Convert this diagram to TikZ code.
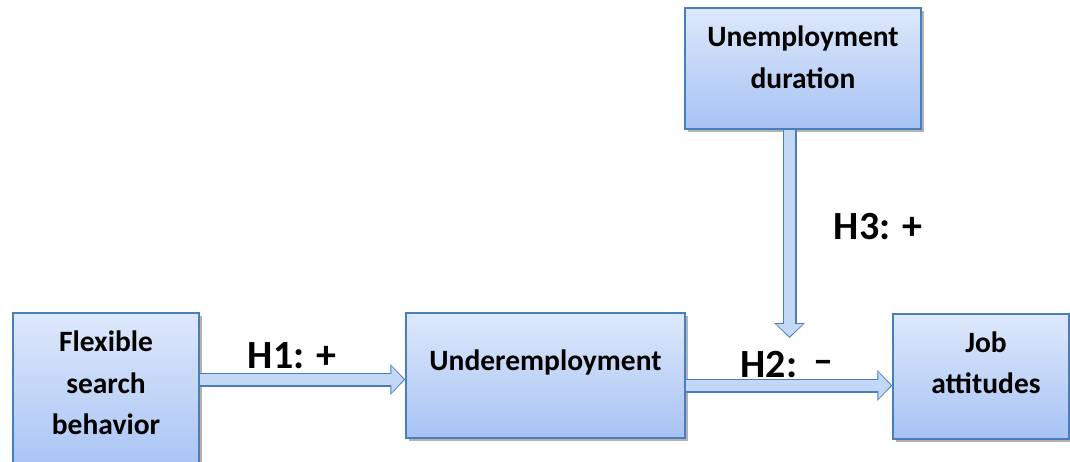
\documentclass[tikz,border=0pt]{standalone}
\usepackage{fontspec}
\setmainfont{Carlito}
\usetikzlibrary{arrows.meta,shadows}
\definecolor{boxline}{HTML}{4A7EBB}
\definecolor{boxtop}{HTML}{DDE8FB}
\definecolor{boxbot}{HTML}{A7C3F4}
\definecolor{arrowfill}{HTML}{C3D7F7}
\tikzset{
  box/.style={draw=boxline, line width=1.5pt, top color=boxtop, bottom color=boxbot,
    drop shadow={shadow xshift=2.5pt, shadow yshift=-2.5pt, fill=black, opacity=0.3}},
  boxtext/.style={font=\fontsize{29.5}{41.5}\selectfont\bfseries, align=center},
  hyp/.style={font=\fontsize{40}{42}\selectfont\bfseries},
  arrowout/.style={draw=boxline, line width=14pt, -{Triangle[width=30pt,length=15pt]}},
  arrowin/.style={draw=arrowfill, line width=11.5pt, shorten >=1.5pt, -{Triangle[width=26pt,length=12.5pt]}},
}
\begin{document}
\begin{tikzpicture}[x=1pt,y=-1pt]
    \useasboundingbox (0,0) rectangle (1070,461);
    % boxes
    \node[box, minimum width=186pt, minimum height=160pt] (flex) at (106,393) {};
    \node[box, minimum width=279pt, minimum height=125pt] (under) at (545.5,375.5) {};
    \node[box, minimum width=176pt, minimum height=125pt] (jobs) at (981,376.5) {};
    \node[box, minimum width=236pt, minimum height=121pt] (dur) at (803,68.5) {};
    \node[boxtext] (flex-t) at ([yshift=10pt]flex.center) {Flexible\\search\\behavior};
    \node[boxtext] (under-t) at ([yshift=13.2pt]under.center) {Underemployment};
    \node[boxtext] (jobs-t) at ([xshift=5pt,yshift=13.8pt]jobs.center) {Job\\attitudes};
    \node[boxtext] (dur-t) at ([yshift=11.3pt]dur.center) {Unemployment\\duration};
    \coordinate (mod) at (789.5,338);
    % arrows
    \draw[arrowout] ([yshift=13.5pt]flex.east) -- node[hyp, anchor=base, pos=0.45, yshift=11pt] (h1) {H1: +} ([yshift=-4pt]under.west);
    \draw[arrowin] ([yshift=13.5pt]flex.east) -- ([yshift=-4pt]under.west);
    \draw[arrowout] ([yshift=-10pt]under.east) -- node[hyp, anchor=base, pos=0.49, yshift=8.5pt] (h2) {H2:\hspace{16pt}\raisebox{4pt}{–}} ([yshift=-9pt]jobs.west);
    \draw[arrowin] ([yshift=-10pt]under.east) -- ([yshift=-9pt]jobs.west);
    \draw[arrowout] ([xshift=-13.5pt]dur.south) -- node[hyp, anchor=west, pos=0.466, xshift=34pt] (h3) {H3: +} (mod);
    \draw[arrowin] ([xshift=-13.5pt]dur.south) -- (mod);
\end{tikzpicture}
\end{document}
